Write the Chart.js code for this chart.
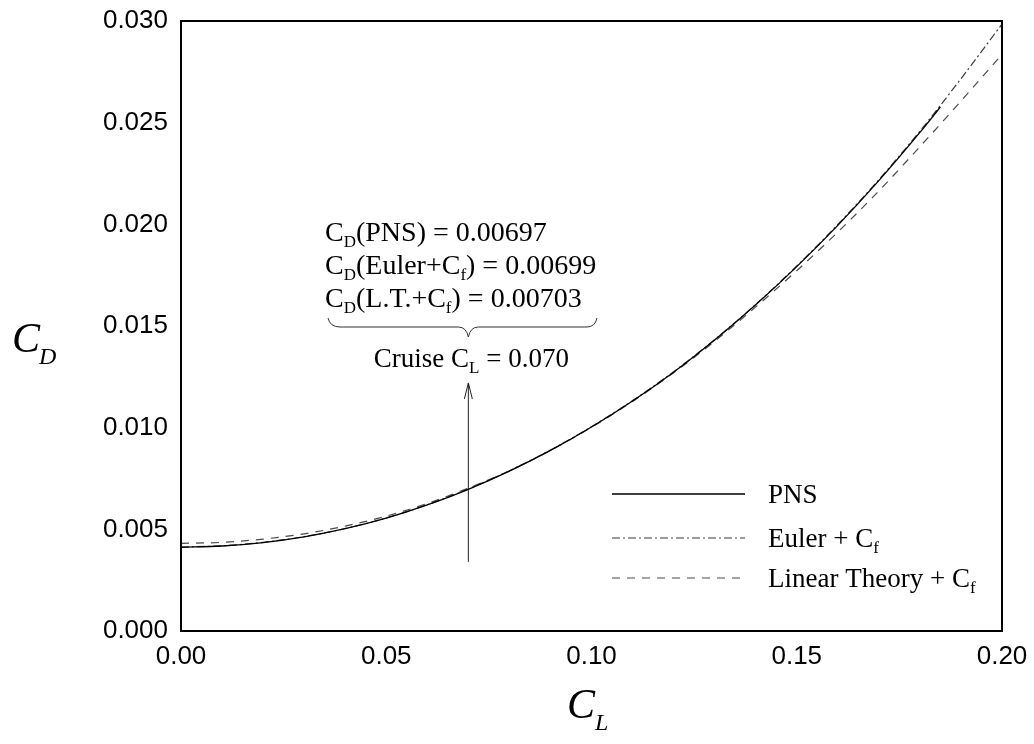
<!DOCTYPE html>
<html>
<head>
<meta charset="utf-8">
<script src="https://cdn.jsdelivr.net/npm/chart.js@4"></script>
<style>
  body { margin: 0; background: #fff; }
</style>
</head>
<body>
<canvas id="myChart" width="1034" height="744"></canvas>
<script>
// datos
const clPns = [0, 0.01, 0.02, 0.03, 0.04, 0.05, 0.06, 0.07, 0.08, 0.09, 0.10,
  0.11, 0.12, 0.13, 0.14, 0.15, 0.16, 0.17, 0.18, 0.185];
const cdPns = [0.00412, 0.00418, 0.00435, 0.00463, 0.00503, 0.00555, 0.00620, 0.00697,
  0.00786, 0.00888, 0.01003, 0.01131, 0.01273, 0.01431, 0.01604, 0.01792, 0.01995,
  0.02215, 0.02452, 0.02577];

const clAll = [0, 0.01, 0.02, 0.03, 0.04, 0.05, 0.06, 0.07, 0.08, 0.09, 0.10,
  0.11, 0.12, 0.13, 0.14, 0.15, 0.16, 0.17, 0.18, 0.19, 0.20];
const cdEuler = [0.00413, 0.00419, 0.00436, 0.00464, 0.00504, 0.00556, 0.00621, 0.00699,
  0.00788, 0.00890, 0.01005, 0.01133, 0.01275, 0.01433, 0.01606, 0.01795, 0.01999,
  0.02220, 0.02458, 0.02716, 0.02985];
const cdLinear = [0.00431, 0.00436, 0.00452, 0.00478, 0.00516, 0.00565, 0.00627, 0.00703,
  0.00788, 0.00888, 0.01002, 0.01129, 0.01270, 0.01425, 0.01594, 0.01772, 0.01962,
  0.02164, 0.02382, 0.02606, 0.02836];

const xTicks = [0, 0.05, 0.10, 0.15, 0.20];
const yTicks = [0, 0.005, 0.010, 0.015, 0.020, 0.025, 0.030];

const cruiseCl = 0.070;
const notas = [
  [["C", 0], ["D", 1], ["(PNS) = 0.00697", 0]],
  [["C", 0], ["D", 1], ["(Euler+C", 0], ["f", 1], [") = 0.00699", 0]],
  [["C", 0], ["D", 1], ["(L.T.+C", 0], ["f", 1], [") = 0.00703", 0]]
];

function puntos(xs, ys) {
  return xs.map((x, i) => ({ x: x, y: ys[i] }));
}

const SERIF = '"Liberation Serif", "Times New Roman", serif';
const SANS = '"Liberation Sans", Arial, sans-serif';

// texto con subindices
function textoRico(ctx, partes, x, y, size, align) {
  let ancho = 0;
  partes.forEach((p) => {
    ctx.font = (p[1] ? Math.round(size * 0.62) : size) + "px " + SERIF;
    ancho += ctx.measureText(p[0]).width;
  });
  let cx = align === "center" ? x - ancho / 2 : x;
  partes.forEach((p) => {
    ctx.font = (p[1] ? Math.round(size * 0.62) : size) + "px " + SERIF;
    ctx.fillText(p[0], cx, p[1] ? y + size * 0.22 : y);
    cx += ctx.measureText(p[0]).width;
  });
}

const extras = {
  id: "extras",
  afterDraw(chart) {
    const ctx = chart.ctx;
    const a = chart.chartArea;
    const xs = chart.scales.x;
    const ys = chart.scales.y;
    ctx.save();

    // marco
    ctx.strokeStyle = "#000";
    ctx.lineWidth = 2;
    ctx.setLineDash([]);
    ctx.strokeRect(a.left, a.top, a.right - a.left, a.bottom - a.top);

    ctx.fillStyle = "#000";
    ctx.textBaseline = "alphabetic";
    ctx.textAlign = "left";

    // titulos de ejes
    ctx.font = "italic 42px " + SERIF;
    ctx.fillText("C", 12, 352);
    ctx.font = "italic 24px " + SERIF;
    ctx.fillText("D", 39, 364);
    ctx.font = "italic 42px " + SERIF;
    ctx.fillText("C", 567, 718);
    ctx.font = "italic 24px " + SERIF;
    ctx.fillText("L", 595, 730);

    // anotaciones
    notas.forEach((linea, i) => {
      textoRico(ctx, linea, 325, 241 + i * 33, 28, "left");
    });

    // llave
    const px = xs.getPixelForValue(cruiseCl);
    ctx.lineWidth = 1;
    ctx.strokeStyle = "#333";
    ctx.beginPath();
    ctx.moveTo(328, 318);
    ctx.quadraticCurveTo(330, 327, 340, 327);
    ctx.lineTo(px - 10, 327);
    ctx.quadraticCurveTo(px - 2, 327, px, 337);
    ctx.quadraticCurveTo(px + 2, 327, px + 10, 327);
    ctx.lineTo(587, 327);
    ctx.quadraticCurveTo(595, 327, 597, 318);
    ctx.stroke();

    textoRico(ctx, [["Cruise C", 0], ["L", 1], [" = 0.070", 0]], px + 3, 367, 27, "center");

    // flecha
    const yBase = ys.getPixelForValue(0.0034);
    const yPunta = ys.getPixelForValue(0.0122);
    ctx.strokeStyle = "#222";
    ctx.beginPath();
    ctx.moveTo(px, yBase);
    ctx.lineTo(px, yPunta);
    ctx.moveTo(px - 4, yPunta + 16);
    ctx.lineTo(px, yPunta);
    ctx.lineTo(px + 4, yPunta + 16);
    ctx.stroke();

    // leyenda
    const filas = [
      { y: 494, ds: 0, partes: [["PNS", 0]] },
      { y: 538, ds: 1, partes: [["Euler + C", 0], ["f", 1]] },
      { y: 578, ds: 2, partes: [["Linear Theory + C", 0], ["f", 1]] }
    ];
    filas.forEach((f) => {
      const d = chart.data.datasets[f.ds];
      ctx.strokeStyle = d.borderColor;
      ctx.lineWidth = d.borderWidth;
      ctx.setLineDash(d.borderDash || []);
      ctx.beginPath();
      ctx.moveTo(612, f.y);
      ctx.lineTo(745, f.y);
      ctx.stroke();
      ctx.setLineDash([]);
      textoRico(ctx, f.partes, 768, f.y + 9, 27, "left");
    });

    ctx.restore();
  }
};

const data = {
  datasets: [
    {
      label: "PNS",
      data: puntos(clPns, cdPns),
      borderColor: "#000",
      borderWidth: 1.3,
      pointRadius: 0,
      cubicInterpolationMode: "monotone"
    },
    {
      label: "Euler + Cf",
      data: puntos(clAll, cdEuler),
      borderColor: "#3a3a3a",
      borderWidth: 1.2,
      borderDash: [8, 3, 2, 3],
      pointRadius: 0,
      cubicInterpolationMode: "monotone"
    },
    {
      label: "Linear Theory + Cf",
      data: puntos(clAll, cdLinear),
      borderColor: "#4a4a4a",
      borderWidth: 1.2,
      borderDash: [8, 7],
      pointRadius: 0,
      cubicInterpolationMode: "monotone"
    }
  ]
};

const config = {
  type: "line",
  data,
  options: {
    responsive: false,
    animation: false,
    layout: { padding: { left: 0, top: 21, right: 32, bottom: 0 } },
    plugins: { legend: { display: false }, tooltip: { enabled: false } },
    scales: {
      x: {
        type: "linear",
        min: 0,
        max: 0.2,
        afterBuildTicks: (s) => { s.ticks = xTicks.map((v) => ({ value: v })); },
        afterFit: (s) => {
          s.height = 113;
          s.paddingLeft = 0;
          s.paddingRight = 0;
        },
        grid: { display: false, drawTicks: false },
        border: { display: false },
        ticks: {
          color: "#000",
          padding: 10,
          font: { family: SANS, size: 26 },
          callback: (v) => v.toFixed(2)
        }
      },
      y: {
        type: "linear",
        min: 0,
        max: 0.03,
        afterBuildTicks: (s) => { s.ticks = yTicks.map((v) => ({ value: v })); },
        afterFit: (s) => {
          s.width = 181;
          s.paddingTop = 0;
          s.paddingBottom = 0;
        },
        grid: { display: false, drawTicks: false },
        border: { display: false },
        ticks: {
          color: "#000",
          padding: 13,
          font: { family: SANS, size: 26 },
          callback: (v) => v.toFixed(3)
        }
      }
    }
  },
  plugins: [extras]
};

var myChart = new Chart(document.getElementById("myChart"), config);
</script>
</body>
</html>
